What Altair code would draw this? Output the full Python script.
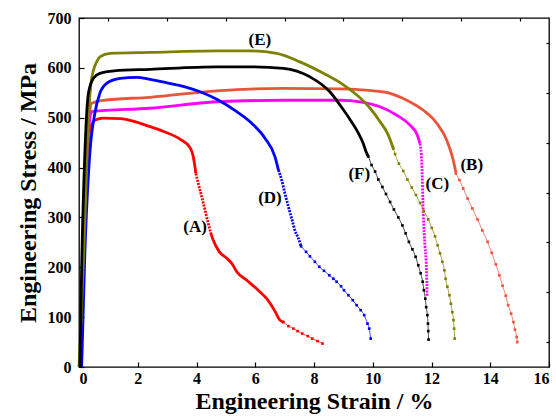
import altair as alt
import pandas as pd

# ---------------- data ----------------
curves = ["A", "B", "C", "D", "E", "F"]
colors = ["#ff0000", "#e8553a", "#ff00ff", "#0000ff", "#808000", "#000000"]

# (A) red
A_main_x = [0.05, 0.2, 0.3, 0.37, 0.54, 0.83, 1.4, 2.42, 2.9, 3.44, 3.78, 3.89, 3.98]
A_main_y = [0, 300, 440, 475, 495, 499, 498, 482, 472, 457, 440, 422, 388]
A_dense_x = [3.98, 4.06, 4.18, 4.29, 4.40, 4.48]
A_dense_y = [388, 368, 341, 315, 288, 270]
A_main2_x = [4.48, 4.57, 4.78, 5.03, 5.2, 5.37, 5.71, 6.1, 6.39, 6.67, 6.84, 6.96]
A_main2_y = [270, 254, 231, 218, 208, 191, 174, 154, 137, 112, 94, 90]
A_tail_x = [6.96, 7.13, 7.30, 7.44, 7.60, 7.79, 7.94, 8.12, 8.29]
A_tail_y = [90, 82, 77, 72, 67, 62, 57, 52, 47]

# (B) orange-red
B_main_x = [0.05, 0.2, 0.35, 0.43, 0.83, 2.42, 4.69, 6.96, 8.89, 9.6, 10.02, 10.59, 11.16, 11.72, 12.18, 12.52, 12.74, 12.83]
B_main_y = [0, 300, 500, 529, 535, 541, 554, 559, 558, 556, 554, 549, 535, 515, 489, 455, 415, 390]
B_tail_x = [12.83, 12.95, 13.08, 13.23, 13.39, 13.57, 13.73, 13.91, 14.05, 14.19, 14.31, 14.42, 14.53, 14.61, 14.71, 14.79, 14.84, 14.90, 14.92]
B_tail_y = [388, 375, 358, 338, 318, 296, 274, 251, 229, 206, 184, 163, 143, 124, 107, 90, 75, 60, 50]

# (C) magenta
C_main_x = [0.05, 0.2, 0.35, 0.43, 2.42, 4.69, 6.96, 8.89, 9.57, 10.25, 10.82, 11.27, 11.52, 11.61]
C_main_y = [0, 300, 490, 512, 519, 532, 535, 535, 532, 522, 505, 485, 465, 448]
C_dense_x = [11.61, 11.67, 11.72, 11.78, 11.83, 11.85]
C_dense_y = [448, 408, 308, 241, 194, 141]

# (D) blue
D_main_x = [0.09, 0.2, 0.37, 0.54, 0.71, 0.94, 1.4, 1.96, 2.42, 3.0, 3.55, 4.12, 4.69, 5.37, 5.93, 6.33, 6.67, 6.79]
D_main_y = [0, 228, 429, 509, 549, 569, 579, 581, 577, 570, 563, 552, 537, 512, 486, 459, 422, 395]
D_dense_x = [6.79, 6.90, 7.01, 7.13, 7.24, 7.35, 7.47, 7.56]
D_dense_y = [395, 375, 348, 321, 298, 274, 258, 242]
D_tail_x = [7.56, 7.73, 7.86, 8.03, 8.18, 8.34, 8.52, 8.66, 8.77, 8.92, 9.02, 9.17, 9.32, 9.45, 9.59, 9.71, 9.82, 9.88, 9.93]
D_tail_y = [242, 231, 222, 211, 201, 193, 184, 177, 171, 162, 154, 144, 134, 124, 114, 104, 87, 77, 57]

# (E) olive
E_main_x = [0.0, 0.07, 0.2, 0.32, 0.4, 0.49, 0.6, 0.71, 1.06, 2.42, 4.69, 5.82, 6.73, 7.52, 8.32, 9.0, 9.45, 9.91, 10.25, 10.53, 10.70]
E_main_y = [0, 93, 294, 495, 565, 595, 612, 622, 629, 631, 634, 634, 629, 612, 589, 566, 546, 519, 492, 465, 438]
E_tail_x = [10.70, 10.76, 10.89, 11.04, 11.18, 11.33, 11.47, 11.61, 11.74, 11.89, 12.01, 12.12, 12.21, 12.29, 12.37, 12.44, 12.48, 12.54, 12.61, 12.66, 12.71, 12.75, 12.77, 12.79]
E_tail_y = [438, 427, 408, 393, 376, 360, 345, 329, 313, 296, 279, 262, 244, 228, 211, 194, 177, 161, 144, 127, 110, 94, 77, 57]

# (F) black
F_main_x = [0.03, 0.09, 0.2, 0.32, 0.49, 0.71, 1.2, 2.42, 4.69, 5.82, 6.96, 7.86, 8.54, 8.89, 9.22, 9.51, 9.68, 9.77, 9.82]
F_main_y = [0, 200, 429, 549, 579, 589, 594, 597, 602, 602, 599, 582, 552, 525, 497, 469, 448, 432, 425]
F_tail_x = [9.82, 9.85, 9.96, 10.08, 10.19, 10.33, 10.45, 10.59, 10.72, 10.87, 11.01, 11.12, 11.23, 11.35, 11.46, 11.55, 11.63, 11.70, 11.74, 11.79, 11.82, 11.86, 11.88, 11.89, 11.90]
F_tail_y = [425, 422, 405, 392, 376, 361, 347, 331, 316, 300, 284, 268, 251, 236, 221, 204, 188, 171, 154, 137, 120, 104, 87, 72, 55]

# curve labels
label_text = ["(A)", "(B)", "(C)", "(D)", "(E)", "(F)"]
label_x = [3.95, 13.37, 12.2, 6.5, 6.16, 9.54]
label_y = [280, 406, 368, 338, 655, 388]

# ticks
x_major = [0, 2, 4, 6, 8, 10, 12, 14, 16]
x_minor = [1, 3, 5, 7, 9, 11, 13, 15]
y_major = [0, 100, 200, 300, 400, 500, 600, 700]
y_minor = [50, 150, 250, 350, 450, 550, 650]

# ---------------- build table ----------------
segments = [
    ("A", "solid", A_main_x, A_main_y),
    ("A", "dotted", A_dense_x, A_dense_y),
    ("A", "solid", A_main2_x, A_main2_y),
    ("A", "tail", A_tail_x, A_tail_y),
    ("B", "solid", B_main_x, B_main_y),
    ("B", "tail", B_tail_x, B_tail_y),
    ("C", "solid", C_main_x, C_main_y),
    ("C", "dotted", C_dense_x, C_dense_y),
    ("D", "solid", D_main_x, D_main_y),
    ("D", "dotted", D_dense_x, D_dense_y),
    ("D", "tail", D_tail_x, D_tail_y),
    ("E", "solid", E_main_x, E_main_y),
    ("E", "tail", E_tail_x, E_tail_y),
    ("F", "solid", F_main_x, F_main_y),
    ("F", "tail", F_tail_x, F_tail_y),
]
rows = []
for k, (c, style, xs, ys) in enumerate(segments):
    for i, (x, y) in enumerate(zip(xs, ys)):
        rows.append({"curve": c, "style": style, "seg": f"{c}{k}", "i": i, "strain": x, "stress": y})
df = pd.DataFrame(rows)
lab = pd.DataFrame({"text": label_text, "strain": label_x, "stress": label_y})

FONT = "Liberation Serif"
xs_scale = alt.Scale(domain=[0, 16], nice=False, zero=False)
ys_scale = alt.Scale(domain=[0, 700], nice=False)
color = alt.Color("curve:N", scale=alt.Scale(domain=curves, range=colors), legend=None)

x_major_axis = alt.Axis(values=x_major, tickSize=5, offset=-5, domain=False, grid=False,
                        labelPadding=3, title="Engineering Strain / %", titlePadding=3,
                        titleFontSize=24, tickColor="black", tickWidth=1.2)
y_major_axis = alt.Axis(values=y_major, tickSize=5, offset=-5, domain=False, grid=False,
                        labelPadding=8, title="Engineering Stress / MPa", titlePadding=7,
                        titleFontSize=24, tickColor="black", tickWidth=1.2)
x_minor_axis = alt.Axis(values=x_minor, tickSize=3, offset=-3, domain=False, grid=False,
                        labels=False, title=None, tickColor="black", tickWidth=1.2)
y_minor_axis = alt.Axis(values=y_minor, tickSize=3, offset=-3, domain=False, grid=False,
                        labels=False, title=None, tickColor="black", tickWidth=1.2)

base = alt.Chart(df)

solid = base.transform_filter(alt.datum.style == "solid").mark_line(
    strokeWidth=2.8, interpolate="monotone").encode(
    x=alt.X("strain:Q", scale=xs_scale, axis=x_major_axis),
    y=alt.Y("stress:Q", scale=ys_scale, axis=y_major_axis),
    color=color, detail="seg:N", order="i:Q")

dotted = base.transform_filter(alt.datum.style == "dotted").mark_line(
    strokeWidth=2.8, strokeDash=[2, 1.2], interpolate="monotone").encode(
    x=alt.X("strain:Q", scale=xs_scale, axis=None),
    y=alt.Y("stress:Q", scale=ys_scale, axis=None),
    color=color, detail="seg:N", order="i:Q")

tail_line = base.transform_filter(alt.datum.style == "tail").mark_line(
    strokeWidth=0.7, interpolate="monotone").encode(
    x=alt.X("strain:Q", scale=xs_scale, axis=None),
    y=alt.Y("stress:Q", scale=ys_scale, axis=None),
    color=color, detail="seg:N", order="i:Q")

tail_pts = base.transform_filter(alt.datum.style == "tail").mark_square(size=7, opacity=1).encode(
    x=alt.X("strain:Q", scale=xs_scale, axis=x_minor_axis),
    y=alt.Y("stress:Q", scale=ys_scale, axis=y_minor_axis),
    color=color)

labels = alt.Chart(lab).mark_text(font=FONT, fontWeight="bold", fontSize=17, color="black").encode(
    x=alt.X("strain:Q", scale=xs_scale, axis=None),
    y=alt.Y("stress:Q", scale=ys_scale, axis=None),
    text="text:N")

chart = alt.layer(solid, dotted, tail_line, tail_pts, labels).resolve_axis(
    x="independent", y="independent"
).properties(
    width=470, height=349,
    padding={"left": 79, "top": 18, "right": 7, "bottom": 49},
    autosize=alt.AutoSizeParams(type="none"),
).configure_view(stroke="black", strokeWidth=1.3).configure_axis(
    labelFont=FONT, labelFontSize=16, labelFontWeight="bold", labelColor="black",
    titleFont=FONT, titleFontWeight="bold", titleColor="black",
)

chart.save("out.html", embed_options={"renderer": "svg", "actions": False})
